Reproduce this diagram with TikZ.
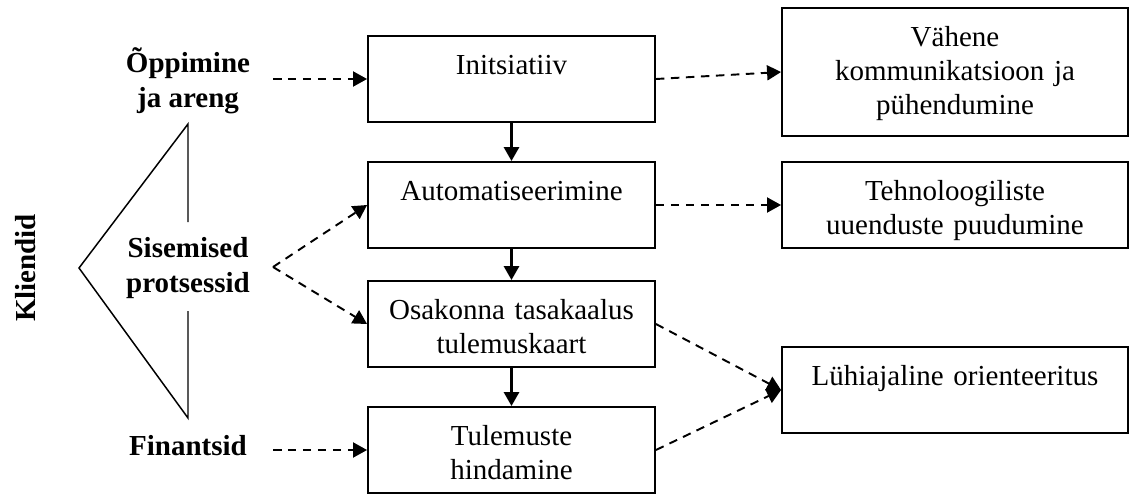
\documentclass[tikz,border=0pt]{standalone}
\usepackage{fontspec}
\setmainfont{Liberation Serif}
\usetikzlibrary{arrows.meta, positioning}

\begin{document}
\begin{tikzpicture}[
  x=0.02cm, y=-0.02cm,
  font=\fontsize{16.5}{19.4}\selectfont,
  mbox/.style={draw, line width=1.1pt, text width=5.74cm, align=center, inner xsep=0pt, inner ysep=0pt, text height=0.76cm, text depth=0.96cm},
  rbox/.style={mbox, text width=6.92cm},
  lbl/.style={font=\fontsize{16.5}{19.4}\selectfont\bfseries, align=center, inner sep=0pt},
  flow/.style={-{Triangle[length=0.28cm, width=0.3cm]}, line width=1.7pt},
  dflow/.style={-{Triangle[length=0.28cm, width=0.3cm]}, line width=1.1pt, dash pattern=on 0.17cm off 0.13cm}
]
  \useasboundingbox (0,0) rectangle (1130,494);

  \node[mbox] (init) at (511.5,79) {Initsiatiiv};
  \node[mbox] (auto) at (511.5,205) {Automatiseerimine};
  \node[mbox] (osak) at (511.5,324) {Osakonna tasakaalus\\tulemuskaart};
  \node[mbox] (tule) at (511.5,450) {Tulemuste\\hindamine};

  \node[rbox, text depth=1.8cm] (vahene) at (955,72) {Vähene\\kommunikatsioon ja\\pühendumine};
  \node[rbox] (tehno) at (955,205) {Tehnoloogiliste\\uuenduste puudumine};
  \node[rbox] (luhi) at (955,390) {Lühiajaline orienteeritus};

  \node[lbl, anchor=base] (oppe) at (188,107) {Õppimine\\ja areng};
  \node[lbl, anchor=base] (sise) at (188,292) {Sisemised\\protsessid};
  \node[lbl, anchor=base] (fin) at (188,455) {Finantsid};
  \node[lbl, rotate=90, anchor=base] (klient) at (35,268) {Kliendid};

  \coordinate (oppe-a) at (273,79);
  \coordinate (sise-a) at (273,267);
  \coordinate (fin-a) at (273,450);

  \draw[line width=0.85pt] (188,222) -- (188,124) -- (79,268) -- (188,418) -- (188,311);

  \draw[flow] (init) -- (auto);
  \draw[flow] (auto) -- (osak);
  \draw[flow] (osak) -- (tule);

  \draw[dflow] (oppe-a) -- (init.west);
  \draw[dflow] (sise-a) -- (auto.west);
  \draw[dflow] (sise-a) -- (osak.west);
  \draw[dflow] (fin-a) -- (tule.west);
  \draw[dflow] (init.east) -- (vahene.west);
  \draw[dflow] (auto.east) -- (tehno.west);
  \draw[dflow] (osak.east) -- (luhi.west);
  \draw[dflow] (tule.east) -- (luhi.west);
\end{tikzpicture}
\end{document}
